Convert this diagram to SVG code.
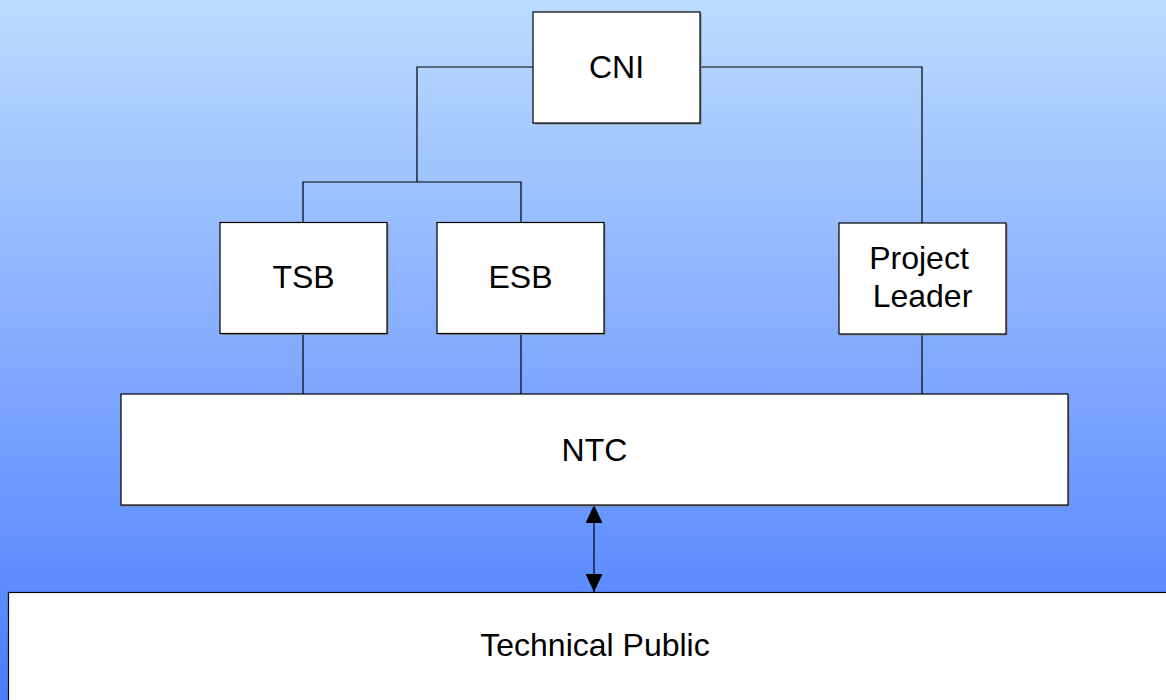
<svg xmlns="http://www.w3.org/2000/svg" width="1166" height="700" viewBox="0 0 1166 700">
<defs>
<linearGradient id="bg" x1="0" y1="0" x2="0" y2="1">
<stop offset="0" stop-color="#bbdcff"/>
<stop offset="1" stop-color="#4b7cff"/>
</linearGradient>
<marker id="ah" viewBox="0 0 18 17" refX="18" refY="8.5" markerWidth="18" markerHeight="17" markerUnits="userSpaceOnUse" orient="auto-start-reverse">
<path d="M0,0 L18,8.5 L0,17 Z" fill="#000"/>
</marker>
<style>
.box{fill:#fff;stroke:#000;stroke-width:1.2}
.sh{fill:#8a8a8a}
.lbl{font-family:"Liberation Sans",Arial,sans-serif;font-size:32px;fill:#000;text-anchor:middle}
.ln{fill:none;stroke:#000;stroke-width:1.2}
</style>
</defs>
<rect x="0" y="0" width="1166" height="700" fill="url(#bg)"/>
<g id="connectors">
<polyline class="ln" points="533,67 417,67 417,182"/>
<polyline class="ln" points="303,222 303,182 521,182 521,222"/>
<polyline class="ln" points="700,67 922,67 922,223"/>
<line class="ln" x1="303" y1="334" x2="303" y2="394"/>
<line class="ln" x1="521" y1="334" x2="521" y2="394"/>
<line class="ln" x1="922" y1="334" x2="922" y2="394"/>
<line class="ln" x1="594" y1="505" x2="594" y2="592" marker-start="url(#ah)" marker-end="url(#ah)"/>
</g>
<g id="cni">
<rect class="sh" x="534.5" y="13.5" width="167" height="111"/>
<rect class="box" x="533" y="12" width="167" height="111"/>
<text class="lbl" x="616.5" y="78">CNI</text>
</g>
<g id="tsb">
<rect class="sh" x="221.5" y="224" width="167" height="111"/>
<rect class="box" x="220" y="222.5" width="167" height="111"/>
<text class="lbl" x="303.5" y="288">TSB</text>
</g>
<g id="esb">
<rect class="sh" x="438.5" y="224" width="167" height="111"/>
<rect class="box" x="437" y="222.5" width="167" height="111"/>
<text class="lbl" x="520.5" y="288">ESB</text>
</g>
<g id="project-leader">
<rect class="sh" x="840.5" y="224.5" width="167" height="111"/>
<rect class="box" x="839" y="223" width="167" height="111"/>
<text class="lbl" x="919" y="269">Project</text>
<text class="lbl" x="922.5" y="307">Leader</text>
</g>
<g id="ntc">
<rect class="sh" x="122.5" y="395.5" width="947" height="111"/>
<rect class="box" x="121" y="394" width="947" height="111"/>
<text class="lbl" x="594.5" y="461">NTC</text>
</g>
<g id="technical-public">
<rect class="box" x="8.5" y="592.5" width="1170" height="120"/>
<text class="lbl" x="595" y="656">Technical Public</text>
</g>
</svg>
